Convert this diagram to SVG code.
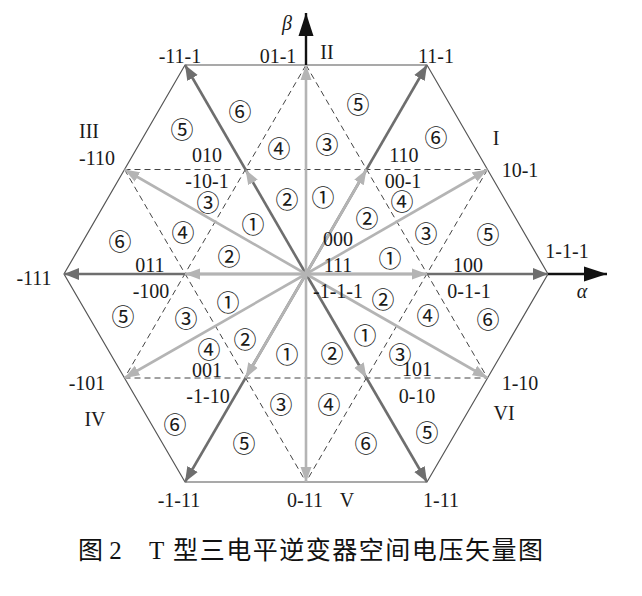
<svg xmlns="http://www.w3.org/2000/svg" width="642" height="596" viewBox="0 0 642 596">
<style>
.hex{fill:none;stroke:#555;stroke-width:1.2}
.dash{fill:none;stroke:#444;stroke-width:1;stroke-dasharray:6 4}
.vl{stroke:#b4b4b4;stroke-width:2.6;fill:none}
.vd{stroke:#6e6e6e;stroke-width:2.6;fill:none}
.vn{stroke:none;fill:none}
.ax{stroke:#111;stroke-width:2.4;fill:none}
.lb{font-family:"Liberation Serif","Times New Roman",serif;font-size:20px;text-anchor:middle;fill:#1a1a1a}
.it{font-style:italic}
.cn{font-family:"Noto Sans CJK SC","DejaVu Sans",sans-serif;font-size:23px;text-anchor:middle;dominant-baseline:central;fill:#1a1a1a}
.cap{font-family:"Liberation Serif","Noto Sans CJK SC",serif;font-size:25px;fill:#111}
</style>
<defs>
<marker id="aL" markerUnits="userSpaceOnUse" markerWidth="16" markerHeight="12" refX="15" refY="6" orient="auto"><path d="M0,0.5 L15,6 L0,11.5 z" fill="#b4b4b4"/></marker>
<marker id="aD" markerUnits="userSpaceOnUse" markerWidth="16" markerHeight="13" refX="15" refY="6.5" orient="auto"><path d="M0,0.5 L15,6.5 L0,12.5 z" fill="#6e6e6e"/></marker>
<marker id="aB" markerUnits="userSpaceOnUse" markerWidth="24" markerHeight="16" refX="23" refY="8" orient="auto"><path d="M0,0.5 L23,8 L0,15.5 z" fill="#111"/></marker>
</defs>

<g id="hexagon">
<polygon class="hex" points="548,274 427,65 185,65 64,274 185,482 427,482"/>
</g>
<g id="grid">
<line class="dash" x1="124.5" y1="169.5" x2="487.5" y2="169.5"/>
<line class="dash" x1="124.5" y1="378" x2="487.5" y2="378"/>
<line class="dash" x1="306" y1="65" x2="124.5" y2="378"/>
<line class="dash" x1="487.5" y1="169.5" x2="306" y2="482"/>
<line class="dash" x1="306" y1="65" x2="487.5" y2="378"/>
<line class="dash" x1="124.5" y1="169.5" x2="306" y2="482"/>
</g>

<g id="connectors">
<line class="ax" x1="548" y1="274" x2="607" y2="274" marker-end="url(#aB)"/>
<line class="ax" x1="306" y1="65" x2="306" y2="13" marker-end="url(#aB)"/>
<line class="vd" x1="306" y1="274" x2="548" y2="274" marker-end="url(#aD)"/>
<line class="vd" x1="306" y1="274" x2="427" y2="65" marker-end="url(#aD)"/>
<line class="vd" x1="306" y1="274" x2="185" y2="65" marker-end="url(#aD)"/>
<line class="vd" x1="306" y1="274" x2="64" y2="274" marker-end="url(#aD)"/>
<line class="vd" x1="306" y1="274" x2="185" y2="482" marker-end="url(#aD)"/>
<line class="vd" x1="306" y1="274" x2="427" y2="482" marker-end="url(#aD)"/>
<line class="vl" x1="306" y1="274" x2="487.5" y2="169.5" marker-end="url(#aL)"/>
<line class="vl" x1="306" y1="274" x2="306" y2="65" marker-end="url(#aL)"/>
<line class="vl" x1="306" y1="274" x2="124.5" y2="169.5" marker-end="url(#aL)"/>
<line class="vl" x1="306" y1="274" x2="124.5" y2="378" marker-end="url(#aL)"/>
<line class="vl" x1="306" y1="274" x2="306" y2="482" marker-end="url(#aL)"/>
<line class="vl" x1="306" y1="274" x2="487.5" y2="378" marker-end="url(#aL)"/>
<line class="vl" x1="306" y1="274" x2="427" y2="274" marker-end="url(#aL)"/>
<line class="vl" x1="306" y1="274" x2="366.5" y2="169.5" marker-end="url(#aL)"/>
<line class="vn" x1="306" y1="274" x2="245.5" y2="169.5" marker-end="url(#aL)"/>
<line class="vl" x1="306" y1="274" x2="185" y2="274" marker-end="url(#aL)"/>
<line class="vl" x1="306" y1="274" x2="245.5" y2="378" marker-end="url(#aL)"/>
<line class="vn" x1="306" y1="274" x2="366.5" y2="378" marker-end="url(#aL)"/>
</g>

<g id="axis-labels">
<text class="lb it" x="287" y="30">β</text>
<text class="lb it" x="582" y="298">α</text>
</g>

<g id="sector-labels">
<text class="lb" x="496" y="145">I</text>
<text class="lb" x="327" y="59">II</text>
<text class="lb" x="89" y="138">III</text>
<text class="lb" x="95" y="426">IV</text>
<text class="lb" x="347" y="507">V</text>
<text class="lb" x="504" y="420">VI</text>
</g>

<g id="vector-labels">
<text class="lb" x="180" y="63">-11-1</text>
<text class="lb" x="278" y="63">01-1</text>
<text class="lb" x="436" y="63">11-1</text>
<text class="lb" x="97" y="165">-110</text>
<text class="lb" x="207" y="162">010</text>
<text class="lb" x="404" y="162">110</text>
<text class="lb" x="520" y="177">10-1</text>
<text class="lb" x="207" y="188">-10-1</text>
<text class="lb" x="403" y="188">00-1</text>
<text class="lb" x="338" y="246">000</text>
<text class="lb" x="338" y="272">111</text>
<text class="lb" x="150" y="272">011</text>
<text class="lb" x="468" y="272">100</text>
<text class="lb" x="567" y="258">1-1-1</text>
<text class="lb" x="34" y="285">-111</text>
<text class="lb" x="151" y="298">-100</text>
<text class="lb" x="338" y="298">-1-1-1</text>
<text class="lb" x="469" y="298">0-1-1</text>
<text class="lb" x="207" y="377">001</text>
<text class="lb" x="417" y="376">101</text>
<text class="lb" x="87" y="390">-101</text>
<text class="lb" x="520" y="390">1-10</text>
<text class="lb" x="208" y="403">-1-10</text>
<text class="lb" x="417" y="403">0-10</text>
<text class="lb" x="179" y="507">-1-11</text>
<text class="lb" x="305" y="507">0-11</text>
<text class="lb" x="441" y="507">1-11</text>
</g>

<g id="region-numbers">
<text class="cn" x="240" y="110">⑥</text>
<text class="cn" x="182" y="128">⑤</text>
<text class="cn" x="358" y="103">⑤</text>
<text class="cn" x="279" y="147">④</text>
<text class="cn" x="327" y="143">③</text>
<text class="cn" x="436" y="136">⑥</text>
<text class="cn" x="208" y="201">③</text>
<text class="cn" x="287" y="198">②</text>
<text class="cn" x="253" y="223">①</text>
<text class="cn" x="183" y="231">④</text>
<text class="cn" x="120" y="240">⑥</text>
<text class="cn" x="229" y="255">②</text>
<text class="cn" x="323" y="196">①</text>
<text class="cn" x="402" y="200">④</text>
<text class="cn" x="367" y="217">②</text>
<text class="cn" x="426" y="232">③</text>
<text class="cn" x="488" y="233">⑤</text>
<text class="cn" x="390" y="257">①</text>
<text class="cn" x="123" y="315">⑤</text>
<text class="cn" x="186" y="317">③</text>
<text class="cn" x="228" y="301">①</text>
<text class="cn" x="245" y="338">②</text>
<text class="cn" x="209" y="348">④</text>
<text class="cn" x="287" y="353">①</text>
<text class="cn" x="383" y="298">②</text>
<text class="cn" x="428" y="314">④</text>
<text class="cn" x="488" y="318">⑥</text>
<text class="cn" x="365" y="334">①</text>
<text class="cn" x="332" y="352">②</text>
<text class="cn" x="400" y="353">③</text>
<text class="cn" x="281" y="403">③</text>
<text class="cn" x="175" y="423">⑥</text>
<text class="cn" x="244" y="442">⑤</text>
<text class="cn" x="329" y="403">④</text>
<text class="cn" x="427" y="431">⑤</text>
<text class="cn" x="366" y="442">⑥</text>
</g>

<g id="caption">
<text class="cap" y="559"><tspan x="78">图 2</tspan><tspan x="149" textLength="394" lengthAdjust="spacing">T 型三电平逆变器空间电压矢量图</tspan></text>
</g>
</svg>
